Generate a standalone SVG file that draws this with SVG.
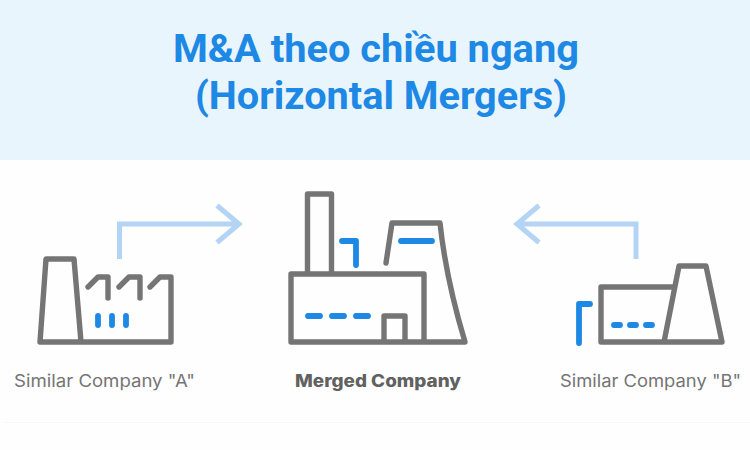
<svg xmlns="http://www.w3.org/2000/svg" width="750" height="450" viewBox="0 0 750 450">
<style>
.o{fill:none;stroke:#757575;stroke-width:5.400;stroke-linecap:round;stroke-linejoin:round}
.b{fill:none;stroke:#1e88e5;stroke-width:5.800;stroke-linecap:round;stroke-linejoin:round}
.a{fill:none;stroke:#b3d4f5;stroke-width:5}
.t{font-family:Roboto,"Liberation Sans",sans-serif;font-weight:700;font-size:38px;fill:#1e88e5}
.l{font-family:Inter,"Noto Sans",sans-serif;font-size:17px;fill:#757575}
</style>
<rect width="750" height="450" fill="#fefefe"/>
<g id="header">
<rect width="750" height="160" fill="#e9f5fd"/>
<text class="t" x="173" y="62" textLength="406" lengthAdjust="spacingAndGlyphs">M&amp;A theo chiều ngang</text>
<text class="t" x="195" y="109" textLength="372" lengthAdjust="spacingAndGlyphs">(Horizontal Mergers)</text>
</g>
<g id="connectors">
<path class="a" d="M119.500 259V224H238M217 205.500L239 224L217 242.500"/>
<path class="a" d="M636 259V224H518M539 205.500L517 224L539 242.500"/>
</g>
<g id="company-a">
<path class="o" d="M40 342L46 259H74L81 342M40 342H171V277H160L150 287M88 287L98 277H108V298M119 287L129 277H140V298"/>
<path class="b" d="M98 316V325M112 316V325M126 316V325"/>
<text class="l" x="14" y="387" textLength="181" lengthAdjust="spacingAndGlyphs">Similar Company "A"</text>
</g>
<g id="company-merged">
<path class="o" d="M307.500 274V194H331.500V274M291 274H424V342M291 274V342H465C456 312 445 270 440 223H392L386 263M384 342V316H405V342"/>
<path class="b" d="M342 241H356V265M401 241H432M308 316H320M332 316H344M356 316H368"/>
<text class="l" x="295" y="387" textLength="166" lengthAdjust="spacingAndGlyphs" style="font-weight:800;fill:#616161">Merged Company</text>
</g>
<g id="company-b">
<path class="o" d="M674 287H601V342H722L706 266H679L664 342"/>
<path class="b" d="M590 304H579V343M614 325H620M630 325H636M646 325H652"/>
<text class="l" x="560" y="387" textLength="181" lengthAdjust="spacingAndGlyphs">Similar Company "B"</text>
</g>
<path id="rule" d="M4 422.500H750" stroke="#f3f9f9" stroke-width="1" fill="none"/>
</svg>
